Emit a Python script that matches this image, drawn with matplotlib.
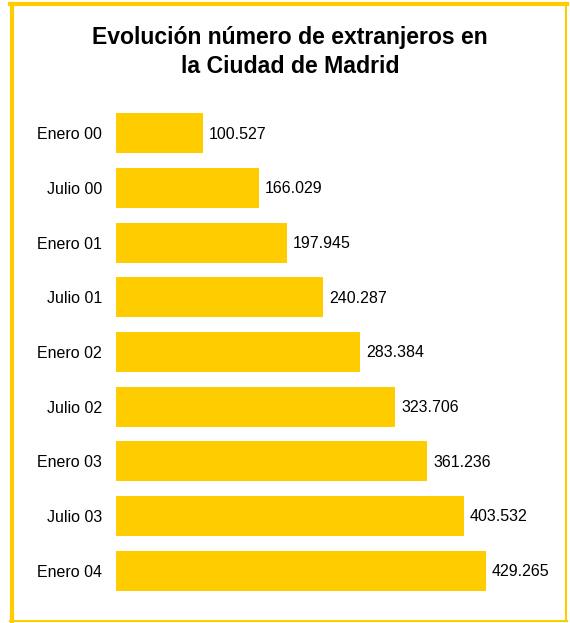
import matplotlib
matplotlib.use('Agg')
import matplotlib.pyplot as plt
from matplotlib.lines import Line2D

periodos = ["Enero 00", "Julio 00", "Enero 01", "Julio 01", "Enero 02",
            "Julio 02", "Enero 03", "Julio 03", "Enero 04"]
extranjeros = [100527, 166029, 197945, 240287, 283384,
               323706, 361236, 403532, 429265]

color = "#FFCC00"
plt.rcParams['font.family'] = ['Liberation Sans', 'DejaVu Sans']

W, H = 570, 623
fig = plt.figure(figsize=(W / 100, H / 100), dpi=100)

# axes placed in pixel coordinates: left 116, bars from y=106 to y=598
ax_left, ax_right = 116, 546
ax_top, ax_bottom = 106, 598
ax = fig.add_axes([ax_left / W, 1 - ax_bottom / H,
                   (ax_right - ax_left) / W, (ax_bottom - ax_top) / H])

y = range(len(periodos))
ax.barh(y, extranjeros, height=0.73, color=color)
ax.set_xlim(0, (ax_right - ax_left) / 0.000862)
ax.set_ylim(len(periodos) - 0.5, -0.5)

for i, v in enumerate(extranjeros):
    ax.annotate(f"{v:,}".replace(",", "."), (v, i), xytext=(4.3, -0.5),
                textcoords="offset points", va="center", ha="left", fontsize=11.5)

ax.set_yticks(list(y))
ax.set_yticklabels(periodos, fontsize=11.5)
ax.tick_params(axis="y", length=0, pad=10)
ax.set_xticks([])
for s in ax.spines.values():
    s.set_visible(False)

fig.text(290 / W, 1 - 52 / H, "Evolución número de extranjeros en\nla Ciudad de Madrid",
         ha="center", va="center", fontsize=16.6, fontweight="bold", linespacing=1.3)

# yellow frame (thicker on left and top)
fig.add_artist(Line2D([11.5 / W, 11.5 / W], [1 - 3.5 / H, 1 - 621 / H],
                      transform=fig.transFigure, color=color, lw=3))
fig.add_artist(Line2D([10 / W, 566.5 / W], [1 - 3.5 / H, 1 - 3.5 / H],
                      transform=fig.transFigure, color=color, lw=3))
fig.add_artist(Line2D([566 / W, 566 / W], [1 - 3.5 / H, 1 - 621 / H],
                      transform=fig.transFigure, color=color, lw=1.5))
fig.add_artist(Line2D([10 / W, 566.5 / W], [1 - 620.5 / H, 1 - 620.5 / H],
                      transform=fig.transFigure, color=color, lw=1.5))

plt.savefig("out.png", dpi=100)
plt.close(fig)
